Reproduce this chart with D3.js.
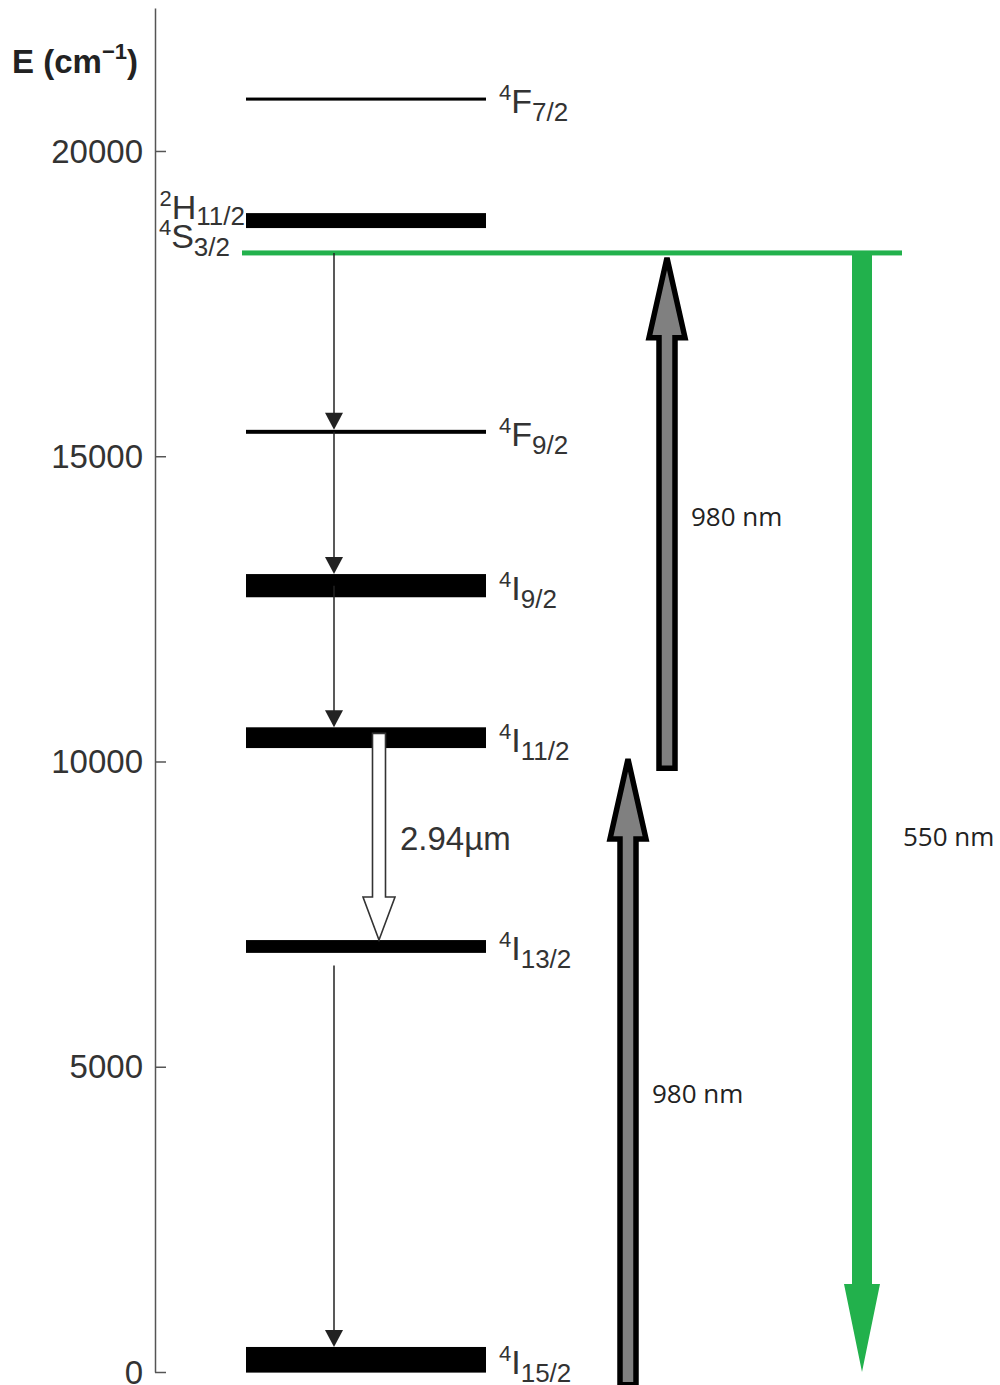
<!DOCTYPE html>
<html><head><meta charset="utf-8">
<script src="https://cdn.jsdelivr.net/npm/d3@7"></script>
<style>body{margin:0;background:#fff}svg{display:block}</style>
</head><body><svg id="c" width="1000" height="1385"></svg>
<script>
// ---- data ----
const yTicks = [0, 5000, 10000, 15000, 20000];
const levelMult   = ["4", "4", "4", "4", "4", "4", "2", "4"];
const levelLetter = ["I", "I", "I", "I", "F", "S", "H", "F"];
const levelJ      = ["15/2", "13/2", "11/2", "9/2", "9/2", "3/2", "11/2", "7/2"];
const levelEnergy = [200, 6970, 10390, 12880, 15400, 18330, 18860, 20850]; // cm^-1
const levelSpread = [420, 210, 340, 380, 65, 50, 245, 50];                 // cm^-1 band width
const decayFrom   = [18330, 15400, 12880, 6660];
const decayTo     = [15400, 12880, 10390, 200];
const pumpFrom    = [-210, 9890];
const pumpTo      = [10090, 18300];
const pumpLabel   = ["980 nm", "980 nm"];
const pumpLabelE  = [4550, 14000];
const emitFrom    = 18330, emitTo = 0, emitLabel = "550 nm", emitLabelE = 8760;
const laserFrom   = 10460, laserTo = 7076, laserLabel = "2.94\u00b5m", laserLabelE = 8750;

// ---- layout ----
const svg = d3.select("#c");
const y = d3.scaleLinear().domain([0, 22342]).range([1372, 8]);
const AX = 155, LX0 = 246, LX1 = 486;
const FONT = "'Liberation Sans', Arial, Helvetica, sans-serif";
const SANS2 = "'Open Sans', 'Noto Sans', sans-serif";
const txt = "#333";

// axis
const ax = svg.append("g").attr("transform", `translate(${AX},0)`)
  .call(d3.axisLeft(y).tickValues(yTicks).tickFormat(d3.format("d"))
        .tickSizeInner(-11).tickSizeOuter(0).tickPadding(12));
ax.select(".domain").attr("stroke", "#555").attr("stroke-width", 1.5);
ax.selectAll(".tick line").attr("stroke", "#555").attr("stroke-width", 1.5);
ax.selectAll(".tick text").attr("font-family", FONT).attr("font-size", 33)
  .attr("fill", txt).attr("dy", "0.34em");

// axis title
const t = svg.append("text").attr("x", 12).attr("y", 73).attr("font-family", FONT)
  .attr("font-weight", "bold").attr("font-size", 33).attr("fill", "#222");
t.append("tspan").text("E (cm");
t.append("tspan").attr("font-size", 22).attr("dy", -14).text("\u22121");
t.append("tspan").attr("dy", 14).text(")");

// levels
const idx = d3.range(levelEnergy.length);
svg.append("g").selectAll("rect").data(idx).join("rect")
  .attr("x", LX0).attr("width", LX1 - LX0)
  .attr("y", i => y(levelEnergy[i] + levelSpread[i] / 2))
  .attr("height", i => y(levelEnergy[i] - levelSpread[i] / 2) - y(levelEnergy[i] + levelSpread[i] / 2))
  .attr("fill", i => levelLetter[i] === "S" ? "#555" : "#000");

// green 4S3/2 extension line
const eS = levelEnergy[5];
svg.append("rect").attr("x", 242).attr("width", 902 - 242)
  .attr("y", y(eS) - 2.5).attr("height", 5).attr("fill", "#22b14c");

// level labels
function label(i, x, yb, anchorEnd, subDy) {
  const g = svg.append("text").attr("font-family", FONT).attr("fill", txt)
    .attr("x", x).attr("y", yb);
  if (anchorEnd) g.attr("text-anchor", "end");
  g.append("tspan").attr("font-size", 22).attr("dy", -13).text(levelMult[i]);
  g.append("tspan").attr("font-size", 34).attr("dy", 13).text(levelLetter[i]);
  g.append("tspan").attr("font-size", 26).attr("dy", subDy).text(levelJ[i]);
}
idx.forEach(i => {
  if (levelLetter[i] === "H") label(i, 245, 219, true, 6);
  else if (levelLetter[i] === "S") label(i, 230, 248, true, 8);
  else label(i, 499, y(levelEnergy[i]) + 14, false, 8);
});

// thin decay arrows
const DX = 334;
function topOf(E) { const i = levelEnergy.indexOf(E); return i < 0 ? y(E) : y(E + levelSpread[i] / 2); }
const dg = svg.append("g");
decayFrom.forEach((f, k) => {
  const y0 = y(f), tip = topOf(decayTo[k]);
  dg.append("line").attr("x1", DX).attr("x2", DX).attr("y1", y0).attr("y2", tip - 8)
    .attr("stroke", "#222").attr("stroke-width", 1.5);
  dg.append("path").attr("d", `M${DX - 9},${tip - 17}L${DX + 9},${tip - 17}L${DX},${tip}Z`).attr("fill", "#222");
});

// hollow 2.94 um arrow
{
  const cx = 379, y0 = y(laserFrom), tip = y(laserTo), hb = tip - 43;
  svg.append("path")
    .attr("d", `M${cx - 6.5},${y0}L${cx + 6.5},${y0}L${cx + 6.5},${hb}L${cx + 16},${hb}L${cx},${tip}L${cx - 16},${hb}L${cx - 6.5},${hb}Z`)
    .attr("fill", "#fff").attr("stroke", "#333").attr("stroke-width", 1.6);
  svg.append("text").attr("x", 400).attr("y", y(laserLabelE) + 12).attr("font-family", FONT)
    .attr("font-size", 33).attr("fill", txt).text(laserLabel);
}

// pump arrows (gray, black outline)
const pumpX = [628, 667];
pumpFrom.forEach((f, k) => {
  const cx = pumpX[k], y0 = y(f), tip = y(pumpTo[k]) + 3, hb = tip + 80;
  svg.append("path")
    .attr("d", `M${cx - 8},${y0}L${cx - 8},${hb}L${cx - 18},${hb}L${cx},${tip}L${cx + 18},${hb}L${cx + 8},${hb}L${cx + 8},${y0}Z`)
    .attr("fill", "#808080").attr("stroke", "#000").attr("stroke-width", 5.5).attr("stroke-linejoin", "miter");
  svg.append("text").attr("x", cx + 24).attr("y", y(pumpLabelE[k]) + 9)
    .attr("font-family", SANS2).attr("font-size", 26)
    .attr("fill", "#222").text(pumpLabel[k]);
});

// green emission arrow
{
  const cx = 862, y0 = y(emitFrom), tip = y(emitTo), hb = tip - 88;
  svg.append("path")
    .attr("d", `M${cx - 10},${y0}L${cx + 10},${y0}L${cx + 10},${hb}L${cx + 18},${hb}L${cx},${tip}L${cx - 18},${hb}L${cx - 10},${hb}Z`)
    .attr("fill", "#22b14c");
  svg.append("text").attr("x", 903).attr("y", y(emitLabelE) + 9)
    .attr("font-family", SANS2).attr("font-size", 26)
    .attr("fill", "#222").text(emitLabel);
}
</script></body></html>
